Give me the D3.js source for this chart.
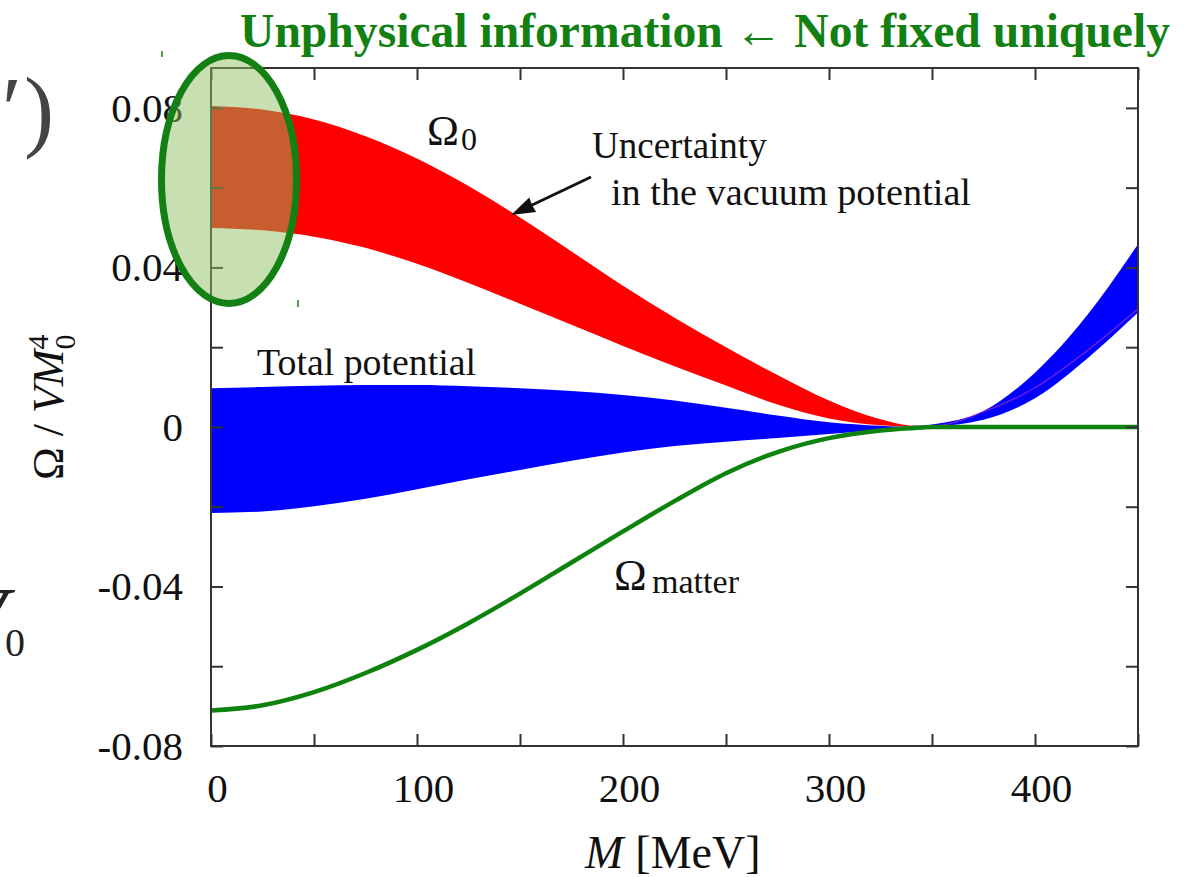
<!DOCTYPE html>
<html><head><meta charset="utf-8">
<script src="https://cdn.jsdelivr.net/npm/d3@7"></script>
<style>body{margin:0;background:#fff}svg{display:block}</style>
</head><body>
<svg id="c" width="1185" height="877"></svg>
<script>
// ---- data ----
const massMeV     = [0,25,50,75,100,125,150,175,200,225,250,275,300,325,340,350,375,400,425,450];
const omega0Upper = [0.0805,0.0796,0.0771,0.0729,0.0673,0.0604,0.0525,0.0440,0.0354,0.0274,0.0200,0.0130,0.0066,0.0019,0.0003,0.0002,0.0038,0.0098,0.0190,0.0296];
const omega0Lower = [0.0499,0.0493,0.0477,0.0449,0.0409,0.0361,0.0309,0.0256,0.0203,0.0152,0.0104,0.0056,0.0021,0.0004,0.0001,0.0001,0.0030,0.0085,0.0185,0.0292];
const totalUpper  = [0.0097,0.0100,0.0103,0.0105,0.0105,0.0102,0.0097,0.0090,0.0080,0.0066,0.0048,0.0029,0.0012,0.0003,0.0000,0.0006,0.0040,0.0136,0.0278,0.0458];
const totalLower  = [-0.0216,-0.0212,-0.0199,-0.0180,-0.0156,-0.0131,-0.0108,-0.0085,-0.0064,-0.0048,-0.0037,-0.0028,-0.0018,-0.0007,0.0000,0.0001,0.0018,0.0072,0.0170,0.0287];
const omegaMatter = [-0.0711,-0.0698,-0.0665,-0.0617,-0.0559,-0.0492,-0.0418,-0.0340,-0.0262,-0.0186,-0.0116,-0.0063,-0.0028,-0.0009,-0.0003,0,0,0,0,0];
const xTicks = [0,50,100,150,200,250,300,350,400,450];
const xTickLabels = {0:"0",100:"100",200:"200",300:"300",400:"400"};
const yTicks = [-0.08,-0.06,-0.04,-0.02,0,0.02,0.04,0.06,0.08];
const yTickLabels = {"-0.08":"-0.08","-0.04":"-0.04","0":"0","0.04":"0.04","0.08":"0.08"};

const FONT = "'Liberation Serif','Times New Roman',serif";
const svg = d3.select("#c");
const x = d3.scaleLinear().domain([0,450]).range([211,1138]);
const y = d3.scaleLinear().domain([-0.08,0.09]).range([746,68]);

const rows = massMeV.map((m,i)=>({m, ru:omega0Upper[i], rl:omega0Lower[i], bu:totalUpper[i], bl:totalLower[i], g:omegaMatter[i]}));
const curve = d3.curveMonotoneX;

const plot = svg.append("g");
plot.append("path").datum(rows)
  .attr("d", d3.area().x(d=>x(d.m)).y0(d=>y(d.rl)).y1(d=>y(d.ru)).curve(curve))
  .attr("fill","#ff0000");
plot.append("path").datum(rows)
  .attr("d", d3.area().x(d=>x(d.m)).y0(d=>y(d.bl)).y1(d=>y(d.bu)).curve(curve))
  .attr("fill","#0000ff");
plot.append("path").datum(rows.filter(d=>d.m>=340))
  .attr("d", d3.line().x(d=>x(d.m)).y(d=>y(d.ru)).curve(curve))
  .attr("fill","none").attr("stroke","#b030c8").attr("stroke-width",1.2).attr("opacity",0.7);
plot.append("path").datum(rows)
  .attr("d", d3.line().x(d=>x(d.m)).y(d=>y(d.g)).curve(curve))
  .attr("fill","none").attr("stroke","#0d820d").attr("stroke-width",4.5);

// frame
svg.append("rect").attr("x",211).attr("y",68).attr("width",927).attr("height",678)
  .attr("fill","none").attr("stroke","#333").attr("stroke-width",2);

function styleAxis(g){
  g.select(".domain").remove();
  g.selectAll(".tick line").attr("stroke","#333").attr("stroke-width",2);
  g.selectAll(".tick text").attr("fill","#111").style("font-family",FONT).style("font-size","41px");
}
svg.append("g").attr("transform","translate(0,746)")
  .call(d3.axisBottom(x).tickValues(xTicks).tickSize(-12).tickPadding(27).tickFormat(d=>xTickLabels[d]||""))
  .call(styleAxis).call(g=>g.selectAll(".tick text").attr("dx",6));
svg.append("g").attr("transform","translate(0,68)")
  .call(d3.axisTop(x).tickValues(xTicks).tickSize(-12).tickFormat(""))
  .call(styleAxis);
svg.append("g").attr("transform","translate(211,0)")
  .call(d3.axisLeft(y).tickValues(yTicks).tickSize(-12).tickPadding(28).tickFormat(d=>yTickLabels[String(+d.toFixed(2))]||""))
  .call(styleAxis);
svg.append("g").attr("transform","translate(1138,0)")
  .call(d3.axisRight(y).tickValues(yTicks).tickSize(-12).tickFormat(""))
  .call(styleAxis);

// axis titles
const xl = svg.append("text").attr("y",868).attr("x",585).attr("fill","#111")
  .style("font-family",FONT).style("font-size","46px");
xl.append("tspan").style("font-style","italic").text("M");
xl.append("tspan").attr("dx",12).text("[MeV]");

const yl = svg.append("text").attr("transform","translate(63,480) rotate(-90)").attr("fill","#111")
  .style("font-family",FONT).style("font-size","44px");
yl.append("tspan").text("Ω / ");
yl.append("tspan").style("font-style","italic").text("VM");
yl.append("tspan").attr("dy",-15).style("font-size","30px").text("4");
yl.append("tspan").attr("dx",-15).attr("dy",27).style("font-size","30px").text("0");

// annotations
function txt(xp,yp,s,size,opts={}){
  const t=svg.append("text").attr("x",xp).attr("y",yp).attr("fill",opts.fill||"#111")
    .style("font-family",FONT).style("font-size",size+"px").text(s);
  if(opts.bold) t.style("font-weight","bold");
  if(opts.italic) t.style("font-style","italic");
  if(opts.len) t.attr("textLength",opts.len).attr("lengthAdjust","spacingAndGlyphs");
  return t;
}
txt(427,145,"Ω",43); txt(461,150,"0",32);
txt(592,158,"Uncertainty",37);
txt(611,205,"in the vacuum potential",37,{len:360});
txt(257,375,"Total potential",37.5,{len:219});
txt(614,590,"Ω",44); txt(652,593,"matter",34,{len:87});

// arrow
svg.append("line").attr("x1",591).attr("y1",177).attr("x2",530).attr("y2",206)
  .attr("stroke","#111").attr("stroke-width",3);
svg.append("polygon").attr("points","511,215 536.1,211.9 532,205 529.3,197.5").attr("fill","#111");

// left clipped fragments of slide text
txt(24,140,")",90,{fill:"#444"});
txt(2,140,"′",90,{fill:"#444"});
txt(-50,650,"V",92,{fill:"#222",italic:true});
txt(5,656,"0",40,{fill:"#222"});

// highlight ellipse and title
svg.append("ellipse").attr("cx",229).attr("cy",179.5).attr("rx",67.5).attr("ry",124)
  .attr("fill","rgba(144,190,97,0.494)").attr("stroke","#138013").attr("stroke-width",7);
svg.append("line").attr("x1",162).attr("y1",51).attr("x2",162).attr("y2",57).attr("stroke","#138013").attr("stroke-width",1.5);
svg.append("line").attr("x1",298).attr("y1",300).attr("x2",298).attr("y2",307).attr("stroke","#138013").attr("stroke-width",1.5);
txt(240,47,"Unphysical information ← Not fixed uniquely",48,{bold:true,fill:"#138013",len:930});
</script>
</body></html>
